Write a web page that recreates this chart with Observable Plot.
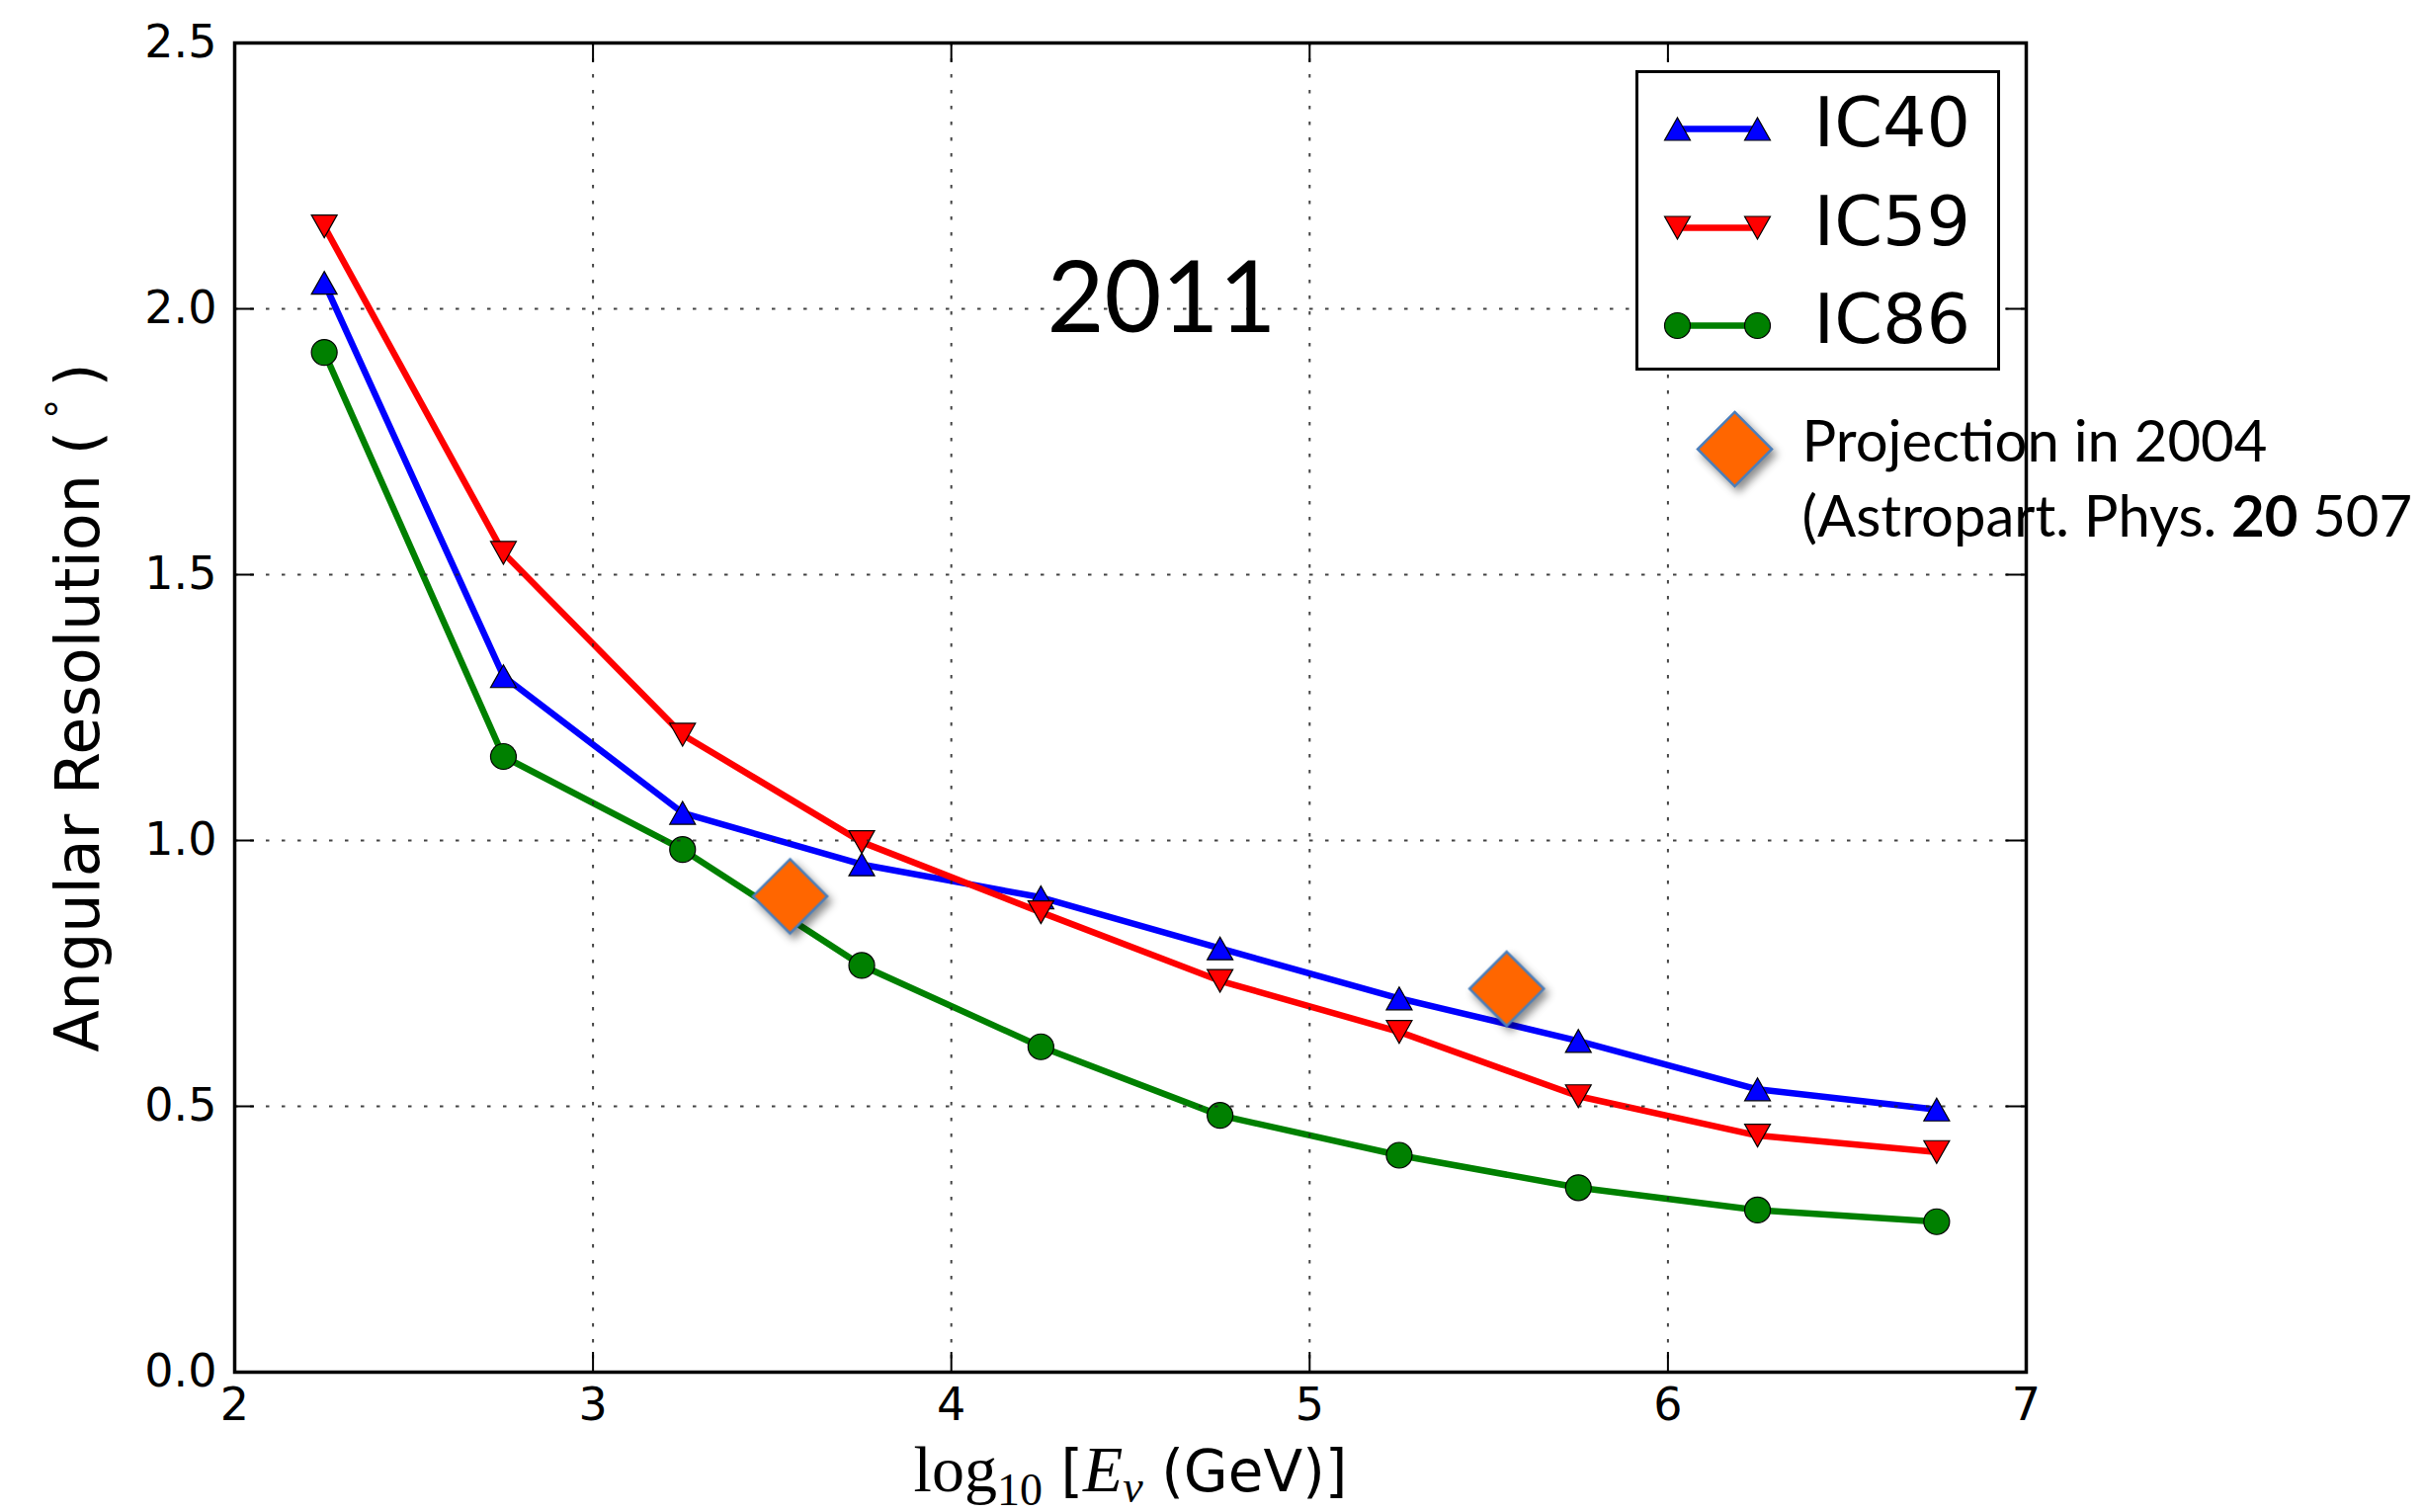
<!DOCTYPE html>
<html>
<head>
<meta charset="utf-8">
<script src="https://cdn.jsdelivr.net/npm/d3@7"></script>
<script src="https://cdn.jsdelivr.net/npm/@observablehq/plot@0.6"></script>
<style>
  html, body { margin: 0; padding: 0; background: #ffffff; }
</style>
</head>
<body>
<div id="chart"></div>
<script>
// ---------------- data ----------------
const energies = [2.25, 2.75, 3.25, 3.75, 4.25, 4.75, 5.25, 5.75, 6.25, 6.75];
const ic40 = [2.049, 1.309, 1.052, 0.955, 0.893, 0.797, 0.703, 0.623, 0.532, 0.494];
const ic59 = [2.155, 1.541, 1.199, 0.997, 0.865, 0.736, 0.640, 0.519, 0.445, 0.414];
const ic86 = [1.918, 1.158, 0.983, 0.765, 0.612, 0.483, 0.408, 0.347, 0.305, 0.283];
const seriesNames = ["IC40", "IC59", "IC86"];
const projectionEnergy = [3.55, 5.55];
const projectionValue = [0.895, 0.721];
const projectionLabel = ["Projection in 2004", "(Astropart. Phys. 20 507"];
const yearLabel = "2011";
const xTicks = [2, 3, 4, 5, 6, 7];
const yTicks = [0.0, 0.5, 1.0, 1.5, 2.0, 2.5];
const xLabel = "log10 [Eν (GeV)]";
const yLabel = "Angular Resolution (°)";

// ---------------- layout / style ----------------
const W = 2453, H = 1530;
const mL = 237, mR = 403, mT = 43, mB = 142;
const frameW = W - mL - mR, frameH = H - mT - mB;
const tickLen = 20;
const markerR = 13;

const triUp = {draw(ctx, size) { const r = Math.sqrt(size / Math.PI), h = r * 0.885;
  ctx.moveTo(0, -h); ctx.lineTo(r, h); ctx.lineTo(-r, h); ctx.closePath(); }};
const triDown = {draw(ctx, size) { const r = Math.sqrt(size / Math.PI), h = r * 0.885;
  ctx.moveTo(0, h); ctx.lineTo(r, -h); ctx.lineTo(-r, -h); ctx.closePath(); }};

const styles = {
  IC40: {color: "#0000ff", symbol: triUp},
  IC59: {color: "#ff0000", symbol: triDown},
  IC86: {color: "#008000", symbol: "circle"}
};
const valuesBySeries = {IC40: ic40, IC59: ic59, IC86: ic86};

const rows = seriesNames.flatMap(name =>
  energies.map((e, i) => ({series: name, energy: e, value: valuesBySeries[name][i]})));
const projection = projectionEnergy.map((e, i) => ({energy: e, value: projectionValue[i]}));

const orange = "#ff6600", orangeEdge = "#4a7ebb";
const lineShape = {draw(ctx, l) { ctx.moveTo(0, 0); ctx.lineTo(0, -l); }};

const seriesMarks = seriesNames.flatMap(name => {
  const d = rows.filter(r => r.series === name);
  const s = styles[name];
  return [
    Plot.line(d, {x: "energy", y: "value", stroke: s.color, strokeWidth: 6.5, strokeLinejoin: "round"}),
    Plot.dot(d, {x: "energy", y: "value", symbol: s.symbol, r: markerR, fill: s.color, stroke: "black", strokeWidth: 1.2})
  ];
});

const gridStyle = {stroke: "#222", strokeOpacity: 0.85, strokeWidth: 2, strokeDasharray: "3.5,12.5"};

// legend (matplotlib style box, upper right)
const legRowDy = [87, 187, 286];
const legendMarks = [
  Plot.frame({fill: "white", stroke: "black", strokeWidth: 3,
    insetLeft: frameW - 394, insetRight: 28, insetTop: 29, insetBottom: frameH - 330}),
  ...seriesNames.flatMap((name, i) => {
    const s = styles[name];
    return [
      Plot.vector([name], {frameAnchor: "top-right", dx: -353, dy: legRowDy[i], length: 81, rotate: 90,
        anchor: "start", shape: lineShape, stroke: s.color, strokeWidth: 6.5}),
      Plot.dot([name], {frameAnchor: "top-right", dx: -353, dy: legRowDy[i], symbol: s.symbol, r: markerR,
        fill: s.color, stroke: "black", strokeWidth: 1.2}),
      Plot.dot([name], {frameAnchor: "top-right", dx: -272, dy: legRowDy[i], symbol: s.symbol, r: markerR,
        fill: s.color, stroke: "black", strokeWidth: 1.2}),
      Plot.text([name], {frameAnchor: "top-right", dx: -215, dy: legRowDy[i] + 17, text: d => d,
        textAnchor: "start", lineAnchor: "bottom", fontSize: 70, fontFamily: "DejaVu Sans", fill: "black"})
    ];
  })
];

const svg = Plot.plot({
  width: W, height: H,
  marginLeft: mL, marginRight: mR, marginTop: mT, marginBottom: mB,
  x: {domain: [2, 7]},
  y: {domain: [0, 2.5]},
  style: {fontFamily: "DejaVu Sans", background: "white", color: "black", overflow: "visible"},
  marks: [
    ...seriesMarks,
    Plot.gridX(xTicks.slice(1, -1), {x: d => d, ...gridStyle}),
    Plot.gridY(yTicks.slice(1, -1), {y: d => d, ...gridStyle}),
    Plot.tickY(yTicks, {y: d => d, insetRight: frameW - tickLen, stroke: "black", strokeWidth: 2}),
    Plot.tickY(yTicks, {y: d => d, insetLeft: frameW - tickLen, stroke: "black", strokeWidth: 2}),
    Plot.tickX(xTicks, {x: d => d, insetTop: frameH - tickLen, stroke: "black", strokeWidth: 2}),
    Plot.tickX(xTicks, {x: d => d, insetBottom: frameH - tickLen, stroke: "black", strokeWidth: 2}),
    Plot.frame({stroke: "black", strokeWidth: 3.5}),
    Plot.axisY({ticks: yTicks, tickFormat: d3.format(".1f"), tickSize: 0, tickPadding: 18, label: null,
      fontSize: 46, fontFamily: "DejaVu Sans"}),
    Plot.axisX({ticks: xTicks, tickFormat: d3.format("d"), tickSize: 0, tickPadding: 16, label: null,
      fontSize: 46, fontFamily: "DejaVu Sans"}),
    Plot.text([yLabel], {frameAnchor: "left", text: d => d, rotate: -90, dx: -138, lineAnchor: "bottom",
      textAnchor: "middle", fontSize: 62, fontFamily: "DejaVu Sans", fill: "black"}),
    Plot.text([xLabel], {frameAnchor: "bottom", text: d => d, dy: 120, lineAnchor: "bottom",
      textAnchor: "middle", fontSize: 58, fontFamily: "DejaVu Sans", fill: "black"}),
    Plot.text([yearLabel], {frameAnchor: "top-left", text: d => d, dx: 938, dy: 292, lineAnchor: "bottom",
      textAnchor: "middle", fontSize: 100, fontFamily: "Lato", fill: "black"}),
    Plot.dot(projection, {x: "energy", y: "value", symbol: "diamond2", r: 33.8, fill: orange,
      stroke: orangeEdge, strokeWidth: 2.5}),
    ...legendMarks,
    Plot.dot([projectionLabel[0]], {frameAnchor: "top-right", dx: -295, dy: 411, symbol: "diamond2", r: 33.8,
      fill: orange, stroke: orangeEdge, strokeWidth: 2.5}),
    Plot.text([projectionLabel[0]], {frameAnchor: "top-right", dx: -227, dy: 423, text: d => d,
      textAnchor: "start", lineAnchor: "bottom", fontSize: 58, fontFamily: "Lato", fill: "black"}),
    Plot.text([projectionLabel[1]], {frameAnchor: "top-right", dx: -227, dy: 499, text: d => d,
      textAnchor: "start", lineAnchor: "bottom", fontSize: 58, fontFamily: "Lato", fill: "black"})
  ]
});

document.getElementById("chart").appendChild(svg);

// ---------- rich text (sub/superscripts, bold) ----------
const root = d3.select(svg);
const findText = s => root.selectAll("text").filter(function() { return this.textContent === s; });

const xl = findText(xLabel);
xl.text(null);
xl.append("tspan").attr("font-family", "Liberation Serif").attr("font-size", 66).text("log");
xl.append("tspan").attr("font-family", "Liberation Serif").attr("font-size", 46).attr("dy", 14).text("10");
xl.append("tspan").attr("dy", -14).text(" [");
xl.append("tspan").attr("font-family", "Liberation Serif").attr("font-style", "italic").attr("font-size", 66).text("E");
xl.append("tspan").attr("font-family", "Liberation Serif").attr("font-style", "italic").attr("font-size", 46).attr("dy", 11).text("ν");
xl.append("tspan").attr("dy", -11).text(" (GeV)]");

const yl = findText(yLabel);
yl.text(null);
yl.append("tspan").text("Angular Resolution (\u2009");
yl.append("tspan").attr("font-size", 40).attr("dy", -24).text("°");
yl.append("tspan").attr("dy", 24).text("\u2009)");

const pl = findText(projectionLabel[1]);
pl.text(null);
pl.append("tspan").text("(Astropart. Phys. ");
pl.append("tspan").attr("font-weight", "bold").text("20");
pl.append("tspan").text(" 507");

root.selectAll(`g[fill="${orange}"]`).style("filter", "drop-shadow(4px 5px 4px rgba(0,0,0,0.45))");
</script>
</body>
</html>
